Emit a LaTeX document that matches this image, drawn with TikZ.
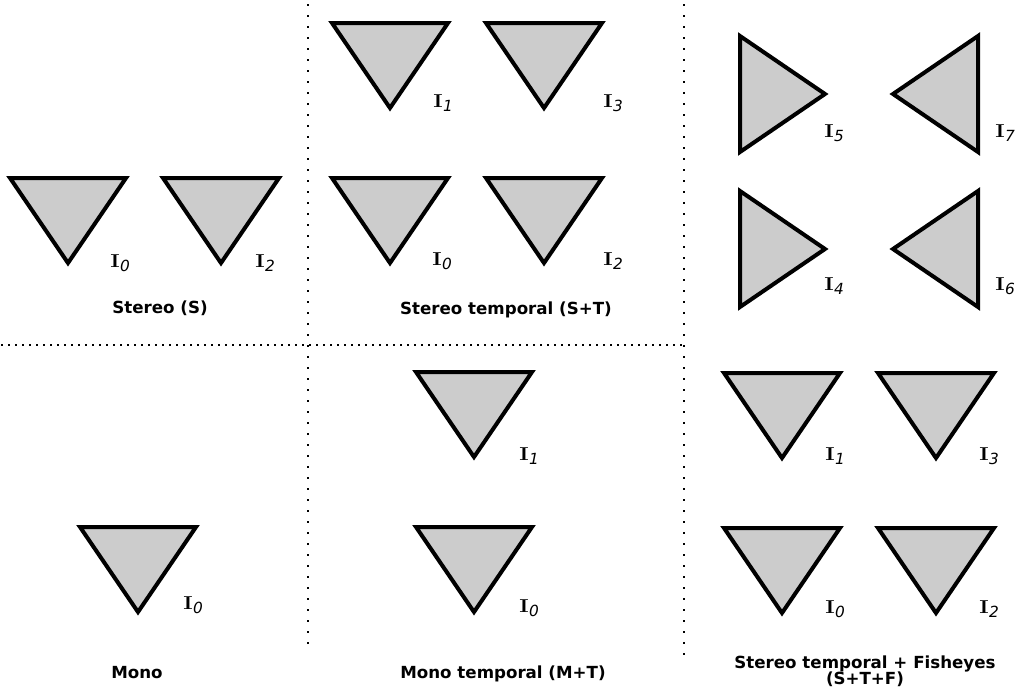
\documentclass[tikz,border=0pt]{standalone}
\usepackage{fontspec}
\usepackage{graphicx}
\newfontfamily\labfont{DejaVu Sans}
\newfontfamily\subfont{DejaVu Sans}
\newcommand{\Isub}[1]{{\fontsize{14}{15}\selectfont\scalebox{1.2}[1]{\textbf{I}}}\hspace{0.3pt}\raisebox{-3pt}{\subfont\itshape\fontsize{11.5}{13}\selectfont #1}}
\tikzset{
  tri/.style={draw=black, fill=gray!40, line width=3pt, miter limit=10},
  vdots/.style={line width=1.5pt, dash pattern=on 1.5pt off 6.75pt},
  hdots/.style={line width=1.5pt, dash pattern=on 1.5pt off 3.75pt},
  imlbl/.style={anchor=base west, inner sep=0pt},
  captxt/.style={font=\labfont\bfseries\fontsize{12.5}{15}\selectfont, inner sep=0pt, align=center}
}
\begin{document}
\begin{tikzpicture}[x=0.75pt,y=-0.75pt]
\useasboundingbox (0,0) rectangle (1015,689);
% dotted separators
\coordinate (v1t) at (308,4);
\coordinate (v1b) at (308,652);
\coordinate (v2t) at (684,4);
\coordinate (v2b) at (684,656);
\coordinate (hl) at (1,345);
\coordinate (hr) at (684,345);
\draw[vdots] (v1t) -- (v1b);
\draw[vdots] (v2t) -- (v2b);
\draw[hdots] (hl) -- (hr);
% down-pointing triangles: top-left corner, width 116, height 85
\foreach \x/\y in {10/178, 163/178, 332/23, 486/23, 332/178, 486/178, 80/527, 416/372, 416/527, 724/373, 878/373, 724/528, 878/528}{
  \draw[tri] (\x,\y) -- ++(116,0) -- ++(-58,85) -- cycle;
}
% right-pointing
\foreach \y in {36,191}{
  \draw[tri] (740,\y) -- ++(0,116) -- ++(85,-58) -- cycle;
}
% left-pointing
\foreach \y in {36,191}{
  \draw[tri] (978,\y) -- ++(0,116) -- ++(-85,-58) -- cycle;
}
% image labels
\node[imlbl] (s0) at (110,267) {\Isub{0}};
\node[imlbl] (s2) at (255,267) {\Isub{2}};
\node[imlbl] (st1) at (433,107) {\Isub{1}};
\node[imlbl] (st3) at (603,107) {\Isub{3}};
\node[imlbl] (st0) at (432,265) {\Isub{0}};
\node[imlbl] (st2) at (603,265) {\Isub{2}};
\node[imlbl] (f5) at (824,137) {\Isub{5}};
\node[imlbl] (f7) at (995,137) {\Isub{7}};
\node[imlbl] (f4) at (824,290) {\Isub{4}};
\node[imlbl] (f6) at (995,290) {\Isub{6}};
\node[imlbl] (m0) at (183,609) {\Isub{0}};
\node[imlbl] (mt1) at (519,460) {\Isub{1}};
\node[imlbl] (mt0) at (519,612) {\Isub{0}};
\node[imlbl] (stf1) at (825,460) {\Isub{1}};
\node[imlbl] (stf3) at (979,460) {\Isub{3}};
\node[imlbl] (stf0) at (825,613) {\Isub{0}};
\node[imlbl] (stf2) at (979,613) {\Isub{2}};
% captions
\node[captxt] (cS) at (160,308) {Stereo (S)};
\node[captxt] (cST) at (506,310) {Stereo temporal (S+T)};
\node[captxt] (cM) at (137,673) {Mono};
\node[captxt] (cMT) at (503,674) {Mono temporal (M+T)};
\node[captxt] (cSTF) at (865,671) {Stereo temporal + Fisheyes\\[-3pt](S+T+F)};
\end{tikzpicture}
\end{document}
